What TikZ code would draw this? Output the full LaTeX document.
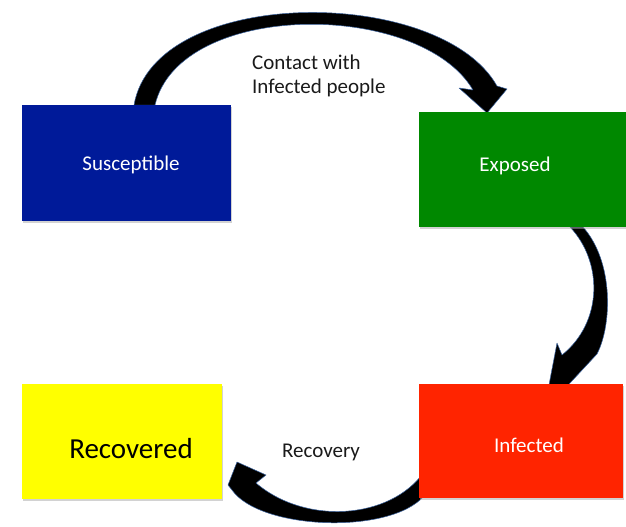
\documentclass[tikz,border=0pt]{standalone}
\usepackage{fontspec}
\setmainfont{Carlito}
\usetikzlibrary{shadows}
\definecolor{cS}{RGB}{0,26,153}
\definecolor{cE}{RGB}{0,136,0}
\definecolor{cI}{RGB}{255,36,0}
\definecolor{cR}{RGB}{255,255,0}
\definecolor{txt}{RGB}{26,26,26}
\definecolor{glow}{RGB}{60,100,160}
\begin{document}
\begin{tikzpicture}[x=1pt,y=-1pt,
  box/.style={rectangle, inner sep=0pt, outer sep=0pt, anchor=north west,
    drop shadow={shadow xshift=1pt, shadow yshift=-2pt, fill=black!35, opacity=0.5}},
  swoosh/.style={fill=black, draw=glow, line width=0.5pt, line join=round},
  lab/.style={font=\fontsize{21}{23}\selectfont, anchor=base, inner sep=0pt, text=txt}]
\useasboundingbox (0,0) rectangle (626,527);
% arrows
\fill[swoosh] (134,105) .. controls (155,-15) and (440,-15) .. (497,86)
  -- (507,89) -- (487,113) -- (459,88) -- (473,90)
  .. controls (420,0) and (180,0) .. (155,105) -- cycle;
\fill[swoosh] (570,227) .. controls (603,262) and (603,322) .. (562,355)
  -- (557,343) -- (544,411) -- (597,354)
  .. controls (612,325) and (614,262) .. (583,227) -- cycle;
\fill[swoosh] (424,472) .. controls (390,520) and (305,525) .. (256,483)
  -- (266,475) -- (237,462) -- (228,485) -- (232,490)
  .. controls (260,530) and (390,535) .. (424,496) -- cycle;
% boxes
\node[box, fill=cS, minimum width=209pt, minimum height=116pt] (S) at (22,105) {};
\node[box, fill=cE, minimum width=207pt, minimum height=115pt] (E) at (419,112) {};
\node[box, fill=cR, minimum width=200pt, minimum height=115pt] (R) at (22,384) {};
\node[box, fill=cI, minimum width=204pt, minimum height=114pt] (I) at (419,384) {};
% labels
\node[lab, text=white] (tS) at (131,170) {Susceptible};
\node[lab, text=white] (tE) at (515,171) {Exposed};
\node[lab, text=white] (tI) at (529,452) {Infected};
\node[lab, text=black, font=\fontsize{29}{31}\selectfont] (tR) at (131,458) {Recovered};
\node[lab] (tRc) at (321,457) {Recovery};
\node[lab, anchor=base west] (tC1) at (252,70) {Contact with};
\node[lab, anchor=base west] (tC2) at (252,93) {Infected people};
\end{tikzpicture}
\end{document}
